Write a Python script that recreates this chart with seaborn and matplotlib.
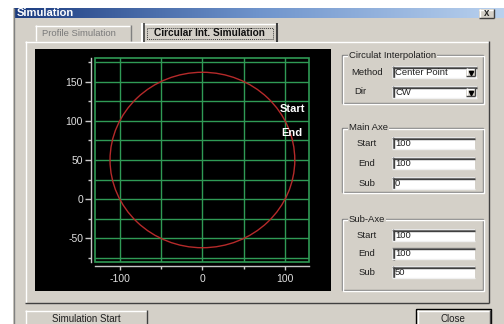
import matplotlib
matplotlib.use("Agg")
import matplotlib.pyplot as plt
import seaborn as sns
import numpy as np
from matplotlib.patches import Rectangle, Circle
from matplotlib.colors import LinearSegmentedColormap

# chart values
x_ticks = [-100, 0, 100]
x_minor = [-50, 50]
y_ticks = [-50, 0, 50, 100, 150]
y_minor = [-75, -25, 25, 75, 125, 175]
x_range = (-130, 129)
y_range = (-80, 180)

# circular interpolation: center (main, sub), start / end points
center_main, center_sub = 0, 50
start_point = (100, 100)
end_point = (100, 100)

# dialog fields
method = "Center Point"
direction = "CW"
main_axe = {"Start": "100", "End": "100", "Sub": "0"}
sub_axe = {"Start": "100", "End": "100", "Sub": "50"}

W, H = 504, 324
GRAY = "#d4d0c8"
DARK = "#808080"
GREEN = "#2f9a55"
RED = "#b52a2a"
AXIS = "#c8c8c8"

sns.set_style("dark")
plt.rcParams["font.family"] = ["Liberation Sans", "DejaVu Sans"]

fig = plt.figure(figsize=(W / 100, H / 100), dpi=100, facecolor="white")

# background layer in pixel coordinates (y down)
bg = fig.add_axes([0, 0, 1, 1])
bg.set_xlim(0, W)
bg.set_ylim(H, 0)
bg.axis("off")


def rect(x, y, w, h, fc, ec="none", lw=1, **kw):
    bg.add_patch(Rectangle((x, y), w, h, facecolor=fc, edgecolor=ec, lw=lw, **kw))


def line(xs, ys, c, lw=1, **kw):
    bg.plot(xs, ys, color=c, lw=lw, solid_capstyle="butt", **kw)


def raised(x, y, w, h, outline=None):
    rect(x, y, w, h, GRAY)
    line([x, x + w], [y + 0.5, y + 0.5], "white")
    line([x + 0.5, x + 0.5], [y, y + h], "white")
    line([x + w - 0.5, x + w - 0.5], [y, y + h], "#404040")
    line([x, x + w], [y + h - 0.5, y + h - 0.5], "#404040")
    if outline:
        rect(x - 1, y - 1, w + 2, h + 2, "none", ec=outline, lw=1)


def sunken(x, y, w, h, text=""):
    rect(x, y, w, h, "white")
    line([x, x + w], [y + 0.5, y + 0.5], DARK)
    line([x + 0.5, x + 0.5], [y, y + h], DARK)
    line([x + 1, x + w], [y + 1.5, y + 1.5], "#404040")
    line([x + 1.5, x + 1.5], [y + 1, y + h], "#404040")
    line([x, x + w], [y + h - 0.5, y + h - 0.5], "#f0f0f0")
    bg.text(x + 3, y + h / 2 + 0.5, text, fontsize=6.8, color="#202020",
            ha="left", va="center")


def combo(x, y, w, h, text):
    sunken(x, y, w, h, text)
    raised(x + w - 11, y + 2, 9, h - 4)
    bg.plot([x + w - 6.5], [y + h / 2 + 0.5], marker="v", ms=3, color="black")


def groupbox(x, y, w, h, label):
    rect(x, y, w, h, "none", ec=DARK, lw=1)
    rect(x + 1, y + 1, w, h, "none", ec="white", lw=1)
    t = bg.text(x + 7, y, label, fontsize=6.8, color="#202020", ha="left",
                va="center")
    t.set_bbox(dict(facecolor=GRAY, edgecolor="none", pad=0.5))


# dialog frame and title bar
rect(13, 8, W - 13, H - 8, GRAY)
line([13.5, 13.5], [8, H], DARK)
grad = LinearSegmentedColormap.from_list("title", ["#1c3c80", "#6f94cc", "#b9d1ee"])
bg.imshow(np.linspace(0, 1, 256)[None, :], cmap=grad, aspect="auto",
          extent=(14, W, 18, 8), zorder=1)
bg.text(17, 12.5, "Simulation", color="white", fontsize=8, weight="bold",
        ha="left", va="center", zorder=2)
raised(479, 9, 15, 9)
bg.text(486.5, 13.5, "x", fontsize=7, weight="bold", ha="center", va="center", zorder=3)

# tabs
rect(25, 41, 464, 262, GRAY)
line([25, 489], [41.5, 41.5], "white")
line([25.5, 25.5], [41, 303], "white")
line([488.5, 488.5], [41, 303], "#404040")
line([25, 489], [302.5, 302.5], "#404040")

line([35, 130], [25.5, 25.5], "white")
line([35.5, 35.5], [25, 41], "white")
line([130.5, 130.5], [25, 41], DARK)
bg.text(42, 33.5, "Profile Simulation", fontsize=6.8, color="#7a7a7a",
        ha="left", va="center")

rect(141, 23, 137, 19, GRAY)
line([141, 278], [23.5, 23.5], "white")
line([142, 142], [23, 42], "white", lw=1.5)
line([144, 144], [23, 42], "#404040", lw=1.2)
line([277, 277], [23, 42], "#404040", lw=1.5)
rect(146.5, 27.5, 126, 11, "none", ec="#404040", lw=0.7, ls=(0, (1, 1)))
bg.text(209.5, 33.5, "Circular Int. Simulation", fontsize=7.3, weight="bold",
        color="#101010", ha="center", va="center")

# black plot panel
rect(35, 49, 296, 242, "black")

# right-hand controls
groupbox(342, 55, 141, 48, "Circulat Interpolation")
bg.text(367, 72.5, "Method", fontsize=6.8, color="#202020", ha="center", va="center")
combo(392, 66, 85, 12, method)
bg.text(360, 92, "Dir", fontsize=6.8, color="#202020", ha="center", va="center")
combo(392, 86, 85, 12, direction)

groupbox(342, 128, 141, 64, "Main Axe")
for i, (k, v) in enumerate(main_axe.items()):
    yy = 137 + i * 20
    bg.text(367, yy + 6.5, k, fontsize=6.8, color="#202020", ha="center", va="center")
    sunken(392, yy, 83, 12, v)

groupbox(342, 219, 141, 71, "Sub-Axe")
for i, (k, v) in enumerate(sub_axe.items()):
    yy = 229 + i * 18.5
    bg.text(367, yy + 6.5, k, fontsize=6.8, color="#202020", ha="center", va="center")
    sunken(392, yy, 83, 12, v)

# bottom buttons
raised(25, 310, 122, 20)
bg.text(86, 318.5, "Simulation Start", fontsize=7, color="#202020", ha="center", va="center")
raised(417, 310, 73, 20, outline="black")
bg.text(453, 318.5, "Close", fontsize=7, color="#202020", ha="center", va="center")

# ---- simulation chart ----
ax = fig.add_axes([95 / W, (H - 262) / H, 214 / W, 204 / H])
ax.set_facecolor("black")
ax.set_xlim(*x_range)
ax.set_ylim(*y_range)
ax.set_xticks(x_ticks)
ax.set_xticks(x_minor, minor=True)
ax.set_yticks(y_ticks)
ax.set_yticks(y_minor, minor=True)
ax.set_xticklabels([str(v) for v in x_ticks])
ax.set_yticklabels([str(v) for v in y_ticks])
ax.grid(which="both", color=GREEN, lw=1, zorder=0)
ax.set_axisbelow(True)

sns.despine(ax=ax, offset={"left": 2.9, "bottom": 2.9})
for s in ("left", "bottom"):
    ax.spines[s].set_color(AXIS)
    ax.spines[s].set_linewidth(1)
ax.add_patch(Rectangle((0, 0), 1, 1, transform=ax.transAxes, fill=False,
                       edgecolor=GREEN, lw=1.2, clip_on=False, zorder=2))

ax.tick_params(axis="y", which="major", length=4.3, width=1, color=AXIS,
               labelcolor="#e0e0e0", labelsize=7.5, pad=1.4, left=True)
ax.tick_params(axis="y", which="minor", length=2.2, width=1, color=AXIS, left=True)
ax.tick_params(axis="x", which="major", length=2.9, width=1, color=AXIS,
               labelcolor="#e0e0e0", labelsize=7.5, pad=2.5, bottom=True)
ax.tick_params(axis="x", which="minor", length=2.2, width=1, color=AXIS, bottom=True)

radius = np.hypot(start_point[0] - center_main, start_point[1] - center_sub)
ax.add_patch(Circle((center_main, center_sub), radius, fill=False,
                    edgecolor=RED, lw=1, zorder=3))

ax.annotate("Start", xy=start_point, xytext=(7, 12), textcoords="offset pixels",
            ha="center", va="center", color="white", weight="bold", fontsize=8,
            annotation_clip=False)
ax.annotate("End", xy=end_point, xytext=(7, -12), textcoords="offset pixels",
            ha="center", va="center", color="white", weight="bold", fontsize=8,
            annotation_clip=False)

fig.savefig("out.png", dpi=100, facecolor="white")
